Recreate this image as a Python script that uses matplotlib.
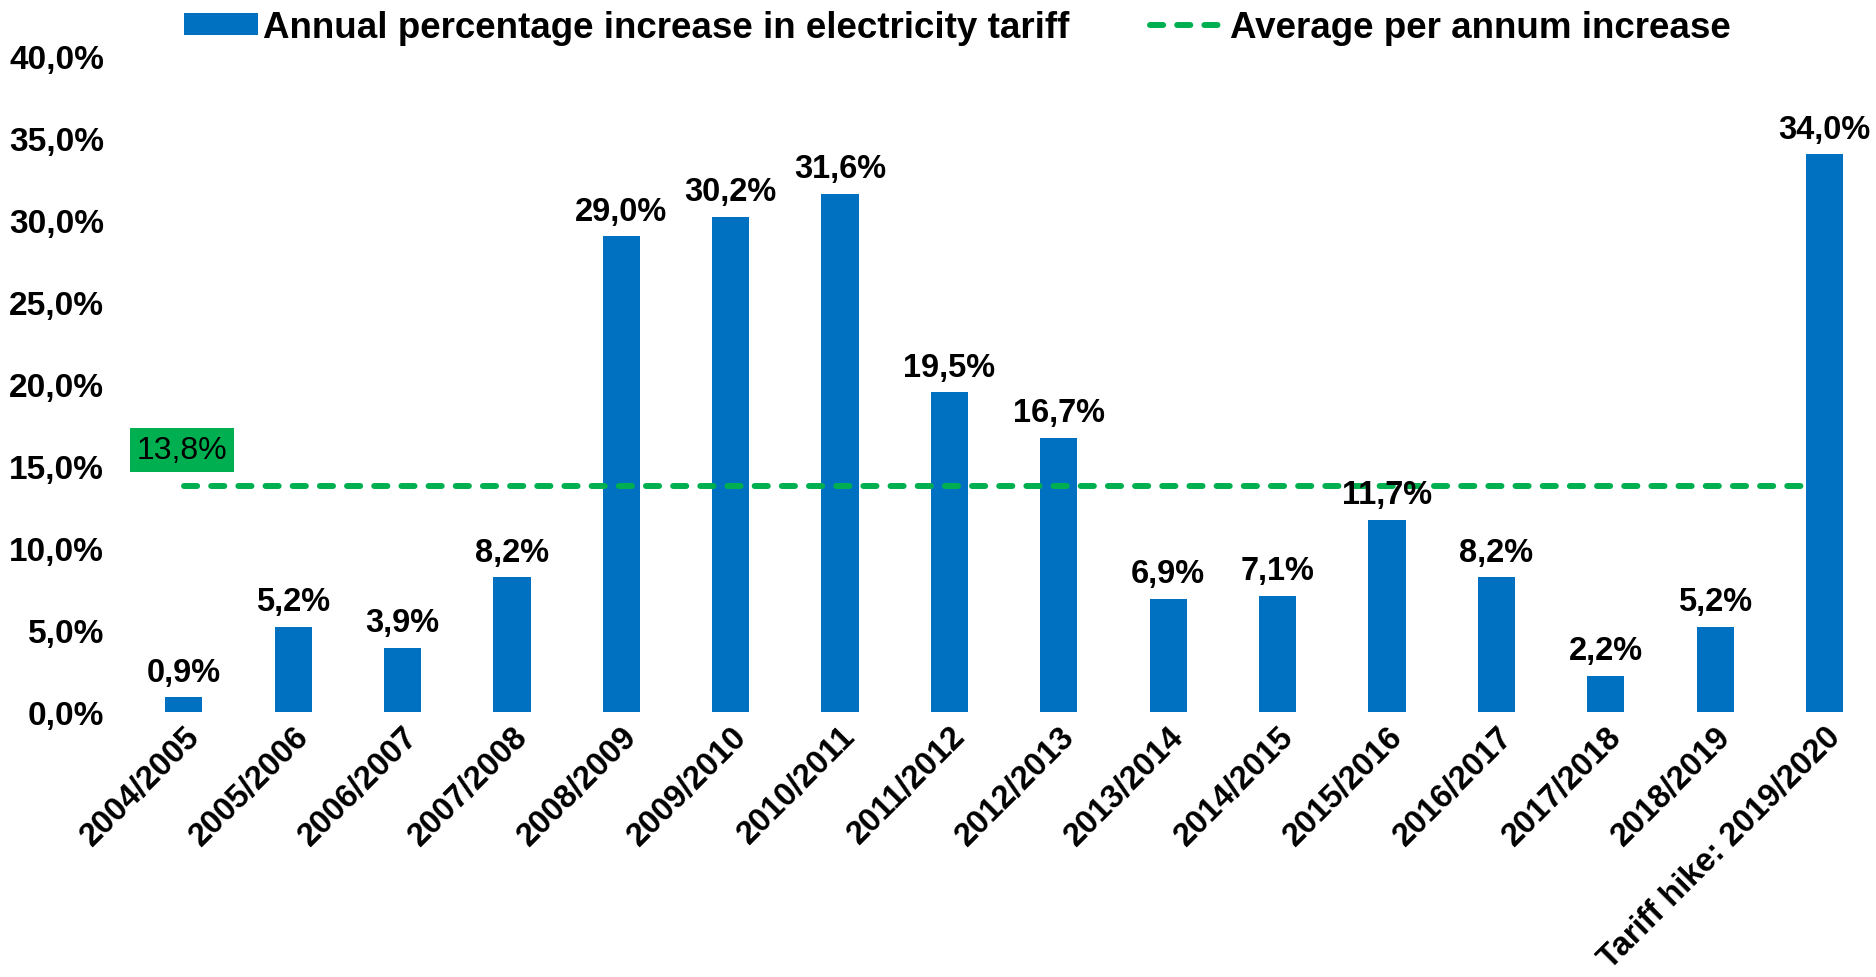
import matplotlib.pyplot as plt
import numpy as np

plt.rcParams['font.family'] = ['Liberation Sans', 'DejaVu Sans']

periods = ['2004/2005', '2005/2006', '2006/2007', '2007/2008', '2008/2009',
           '2009/2010', '2010/2011', '2011/2012', '2012/2013', '2013/2014',
           '2014/2015', '2015/2016', '2016/2017', '2017/2018', '2018/2019',
           'Tariff hike: 2019/2020']
increase = [0.9, 5.2, 3.9, 8.2, 29.0, 30.2, 31.6, 19.5, 16.7, 6.9,
            7.1, 11.7, 8.2, 2.2, 5.2, 34.0]
average = 13.8

bar_color = '#0070C0'
avg_color = '#00B050'

def pct(v):
    return ('%.1f%%' % v).replace('.', ',')

fig = plt.figure(figsize=(18.76, 9.78), dpi=100)
ax = fig.add_axes([0.0688, 0.271, 0.9312, 0.6707])

X = np.arange(len(periods))
bars = ax.bar(X, increase, width=0.34, color=bar_color, zorder=2)
line, = ax.plot([X[0], X[-1] - 0.1], [average, average], color=avg_color,
                lw=4.3, dashes=(2.2, 2.35), dash_capstyle='round', zorder=3)

for x, y in zip(X, increase):
    ax.annotate(pct(y), (x, y), xytext=(0, 12), textcoords='offset points',
                ha='center', va='baseline', fontsize=23.5, fontweight='bold',
                zorder=4)

ax.text(-0.43, 16.0, pct(average), ha='left', va='center', fontsize=23,
        bbox=dict(facecolor=avg_color, edgecolor='none', pad=5), zorder=4)

ax.set_xlim(-0.5, 15.47)
ax.set_ylim(0, 40)
ax.set_yticks(np.arange(0, 40.1, 5))
ax.set_yticklabels([pct(v) for v in np.arange(0, 40.1, 5)],
                   fontsize=24, fontweight='bold')
ax.set_xticks(X)
ax.set_xticklabels(periods, rotation=45, ha='right', va='top',
                   rotation_mode='anchor', fontsize=23.5, fontweight='bold')
ax.tick_params(axis='both', length=0)
ax.tick_params(axis='y', pad=18)
ax.tick_params(axis='x', pad=6)
for s in ax.spines.values():
    s.set_visible(False)

ax.legend([bars, line],
          ['Annual percentage increase in electricity tariff',
           'Average per annum increase'],
          loc='center', bbox_to_anchor=(0.474, 1.043), ncol=2,
          frameon=False, prop={'weight': 'bold', 'size': 26.5},
          handlelength=2.0, handleheight=0.55, handletextpad=0.15,
          columnspacing=2.2)

plt.savefig('out.png', dpi=100)
